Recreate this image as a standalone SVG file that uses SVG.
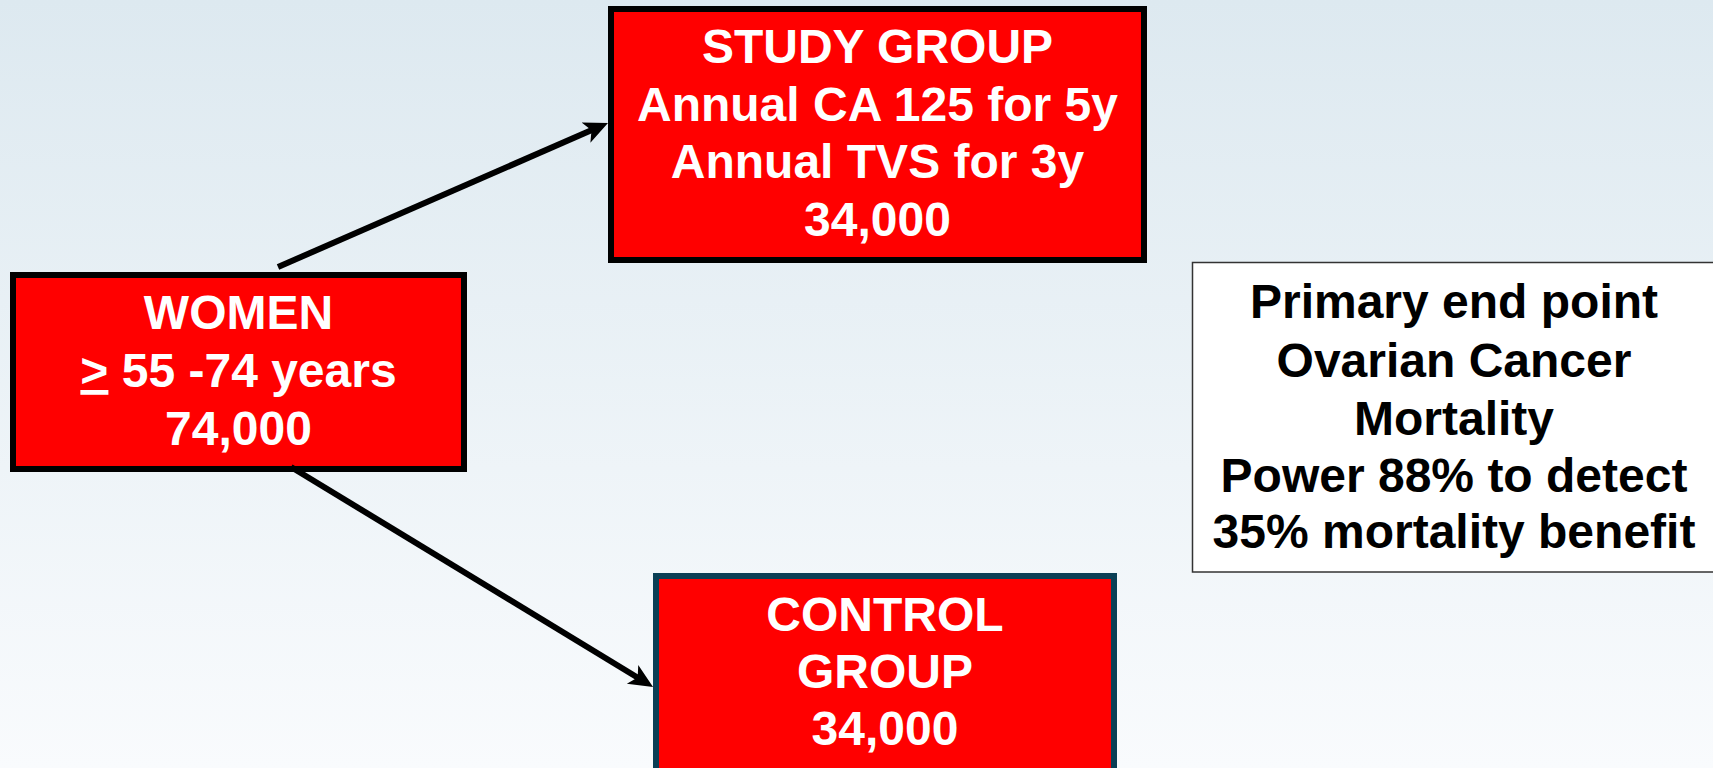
<svg xmlns="http://www.w3.org/2000/svg" width="1713" height="768" viewBox="0 0 1713 768">
  <defs>
    <linearGradient id="bg" x1="0" y1="0" x2="0" y2="1">
      <stop offset="0" stop-color="#dde9f0"/>
      <stop offset="1" stop-color="#f9fbfd"/>
    </linearGradient>
    <marker id="arrow" markerUnits="userSpaceOnUse" markerWidth="24" markerHeight="24" viewBox="0 0 24 24" refX="12" refY="12" orient="auto">
      <path d="M0,1 L24,12 L0,23 L6,12 z" fill="#000"/>
    </marker>
    <style>
      .box { fill: #ff0000; stroke: #000; stroke-width: 6; }
      .box.teal { stroke: #0b3f55; }
      .note { fill: #ffffff; stroke: #333; stroke-width: 1.5; }
      .lbl { font-family: "Liberation Sans", Arial, sans-serif; font-weight: bold; font-size: 48px; text-anchor: middle; fill: #ffffff; }
      .lbl.dark { fill: #000000; }
      .conn { stroke: #000; stroke-width: 6; fill: none; marker-end: url(#arrow); }
    </style>
  </defs>

  <rect width="1713" height="768" fill="url(#bg)"/>

  <g id="women">
    <rect class="box" x="13" y="275" width="451" height="194"/>
    <text class="lbl" x="238.5" y="329">WOMEN</text>
    <text class="lbl" x="238.5" y="387"><tspan text-decoration="underline">&gt;</tspan> 55 -74 years</text>
    <text class="lbl" x="238.5" y="445">74,000</text>
  </g>

  <g id="study-group">
    <rect class="box" x="611" y="9" width="533" height="251"/>
    <text class="lbl" x="877.5" y="63">STUDY GROUP</text>
    <text class="lbl" x="877.5" y="121">Annual CA 125 for 5y</text>
    <text class="lbl" x="877.5" y="178">Annual TVS for 3y</text>
    <text class="lbl" x="877.5" y="236">34,000</text>
  </g>

  <g id="control-group">
    <rect class="box teal" x="656" y="576" width="458" height="210"/>
    <text class="lbl" x="885" y="631">CONTROL</text>
    <text class="lbl" x="885" y="688">GROUP</text>
    <text class="lbl" x="885" y="745">34,000</text>
  </g>

  <g id="endpoint">
    <rect class="note" x="1192.5" y="262.5" width="530" height="309.5"/>
    <text class="lbl dark" x="1454" y="318">Primary end point</text>
    <text class="lbl dark" x="1454" y="377">Ovarian Cancer</text>
    <text class="lbl dark" x="1454" y="435">Mortality</text>
    <text class="lbl dark" x="1454" y="492">Power 88% to detect</text>
    <text class="lbl dark" x="1454" y="548">35% mortality benefit</text>
  </g>

  <g id="connectors">
    <line class="conn" x1="278" y1="267" x2="597" y2="127.8"/>
    <line class="conn" x1="291" y1="467" x2="642.8" y2="680.7"/>
  </g>
</svg>
